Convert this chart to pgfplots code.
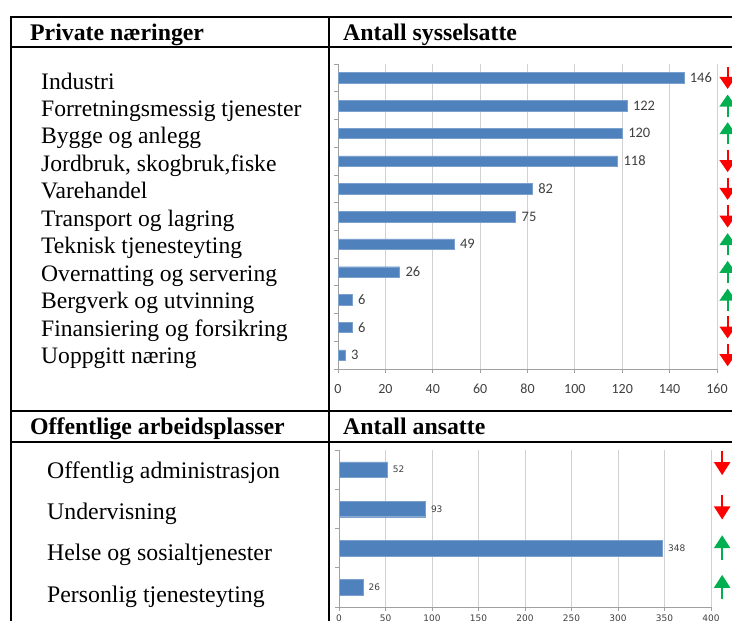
\documentclass[border=0pt]{standalone}
\usepackage{fontspec}
\setmainfont{Liberation Serif}
\newfontfamily\carlito{Carlito}
\newfontfamily\dejavu{DejaVu Sans}
\usepackage{pgfplots}
\pgfplotsset{compat=1.18}
\usetikzlibrary{arrows.meta}
\definecolor{barblue}{HTML}{4F81BD}
\definecolor{upgreen}{HTML}{00B050}
\definecolor{gridgray}{HTML}{D0D0D0}
\definecolor{axgray}{HTML}{A0A0A0}
\definecolor{lbl}{HTML}{404040}
\begin{document}
\begin{tikzpicture}
\useasboundingbox (0pt,0pt) rectangle (732pt,-621pt);
\clip (0pt,0pt) rectangle (732pt,-621pt);
\fill[white] (0pt,0pt) rectangle (732pt,-621pt);
% table frame
\draw[line width=2pt] (10pt,-17pt) -- (740pt,-17pt);
\draw[line width=1.8pt] (11pt,-17pt) -- (11pt,-630pt);
\draw[line width=1.5pt] (329pt,-17pt) -- (329pt,-630pt);
\draw[line width=2.5pt] (10pt,-47pt) -- (740pt,-47pt);
\draw[line width=2.2pt] (10pt,-411pt) -- (740pt,-411pt);
\draw[line width=2.2pt] (10pt,-442pt) -- (740pt,-442pt);
% headers
\node[anchor=base west, inner sep=0, font=\fontsize{23.8}{25}\selectfont\bfseries] at (30pt,-40pt) {Private næringer};
\node[anchor=base west, inner sep=0, font=\fontsize{23.8}{25}\selectfont\bfseries] at (343pt,-40pt) {Antall sysselsatte};
\node[anchor=base west, inner sep=0, font=\fontsize{23.8}{25}\selectfont\bfseries] at (30pt,-434pt) {Offentlige arbeidsplasser};
\node[anchor=base west, inner sep=0, font=\fontsize{23.8}{25}\selectfont\bfseries] at (343pt,-434pt) {Antall ansatte};
% category labels
\foreach \t [count=\i from 0] in {Industri,Forretningsmessig tjenester,Bygge og anlegg,{Jordbruk, skogbruk,fiske},Varehandel,Transport og lagring,Teknisk tjenesteyting,Overnatting og servering,Bergverk og utvinning,Finansiering og forsikring,Uoppgitt næring}{
  \pgfmathsetmacro\yy{-(89+27.45*\i)}
  \node[anchor=base west, inner sep=0, font=\fontsize{23.6}{25}\selectfont] at (41pt,\yy pt) {\t};
}
\foreach \t [count=\i from 0] in {Offentlig administrasjon,Undervisning,Helse og sosialtjenester,Personlig tjenesteyting}{
  \pgfmathsetmacro\yy{-(478+41.4*\i)}
  \node[anchor=base west, inner sep=0, font=\fontsize{23.8}{25}\selectfont] at (47pt,\yy pt) {\t};
}
% top chart
\begin{axis}[
  at={(338pt,-369pt)}, anchor=south west, scale only axis,
  width=379pt, height=305pt,
  xmin=0, xmax=160, ymin=-0.5, ymax=10.5,
  xtick={0,20,...,160}, ytick={-0.5,0.5,...,10.5}, yticklabels={},
  axis x line*=bottom, axis y line*=left,
  axis line style={axgray, line width=0.8pt, -},
  xmajorgrids, grid style={gridgray, line width=0.8pt},
  tick align=outside, major tick length=4pt, tick style={axgray, line width=0.8pt},
  /pgf/number format/assume math mode=true,
  xticklabel style={font=\carlito\fontsize{14}{14}\selectfont, text=lbl, text height=9pt, text depth=0pt, yshift=-8pt},
  clip=false,
]
\addplot[xbar, bar width=10.5pt, fill=barblue, draw=barblue!75!white, line width=0.4pt,
  nodes near coords, nodes near coords style={font=\carlito\fontsize{14.5}{14.5}\selectfont, text=lbl, anchor=west, xshift=2.5pt}]
  coordinates {(146,10) (122,9) (120,8) (118,7) (82,6) (75,5) (49,4) (26,3) (6,2) (6,1) (3,0)};
\addplot[quiver={u=0, v=\thisrow{v}}, red, line width=2pt, -{Triangle[width=16pt,length=12pt]}]
  table {
  x y v
  164.5 10.4 -0.8
  164.5 7.4 -0.8
  164.5 6.4 -0.8
  164.5 5.4 -0.8
  164.5 1.4 -0.8
  164.5 0.4 -0.8
  };
\addplot[quiver={u=0, v=\thisrow{v}}, upgreen, line width=2pt, -{Triangle[width=16pt,length=12pt]}]
  table {
  x y v
  164.5 8.6 0.8
  164.5 7.6 0.8
  164.5 3.6 0.8
  164.5 2.6 0.8
  164.5 1.6 0.8
  };
\end{axis}
% bottom chart
\begin{axis}[
  at={(339pt,-607pt)}, anchor=south west, scale only axis,
  width=372pt, height=157pt,
  xmin=0, xmax=400, ymin=-0.5, ymax=3.5,
  xtick={0,50,...,400}, ytick={-0.5,0.5,...,3.5}, yticklabels={},
  axis x line*=bottom, axis y line*=left,
  axis line style={axgray, line width=0.8pt, -},
  xmajorgrids, grid style={gridgray, line width=0.8pt},
  tick align=outside, major tick length=4pt, tick style={axgray, line width=0.8pt},
  /pgf/number format/assume math mode=true,
  xticklabel style={font=\dejavu\fontsize{9}{9}\selectfont, text=lbl, text height=6.5pt, text depth=0pt},
  clip=false,
]
\addplot[xbar, bar width=15.7pt, fill=barblue, draw=barblue!75!white, line width=0.4pt,
  nodes near coords, nodes near coords style={font=\dejavu\fontsize{9}{9}\selectfont, text=lbl, anchor=west, xshift=2pt}]
  coordinates {(52,3) (93,2) (348,1) (26,0)};
\addplot[quiver={u=0, v=\thisrow{v}}, red, line width=2pt, -{Triangle[width=16pt,length=13pt]}]
  table {
  x y v
  412 3.48 -0.62
  412 2.35 -0.62
  };
\addplot[quiver={u=0, v=\thisrow{v}}, upgreen, line width=2pt, -{Triangle[width=16pt,length=13pt]}]
  table {
  x y v
  412 0.71 0.62
  412 -0.30 0.62
  };
\end{axis}
\end{tikzpicture}
\end{document}
